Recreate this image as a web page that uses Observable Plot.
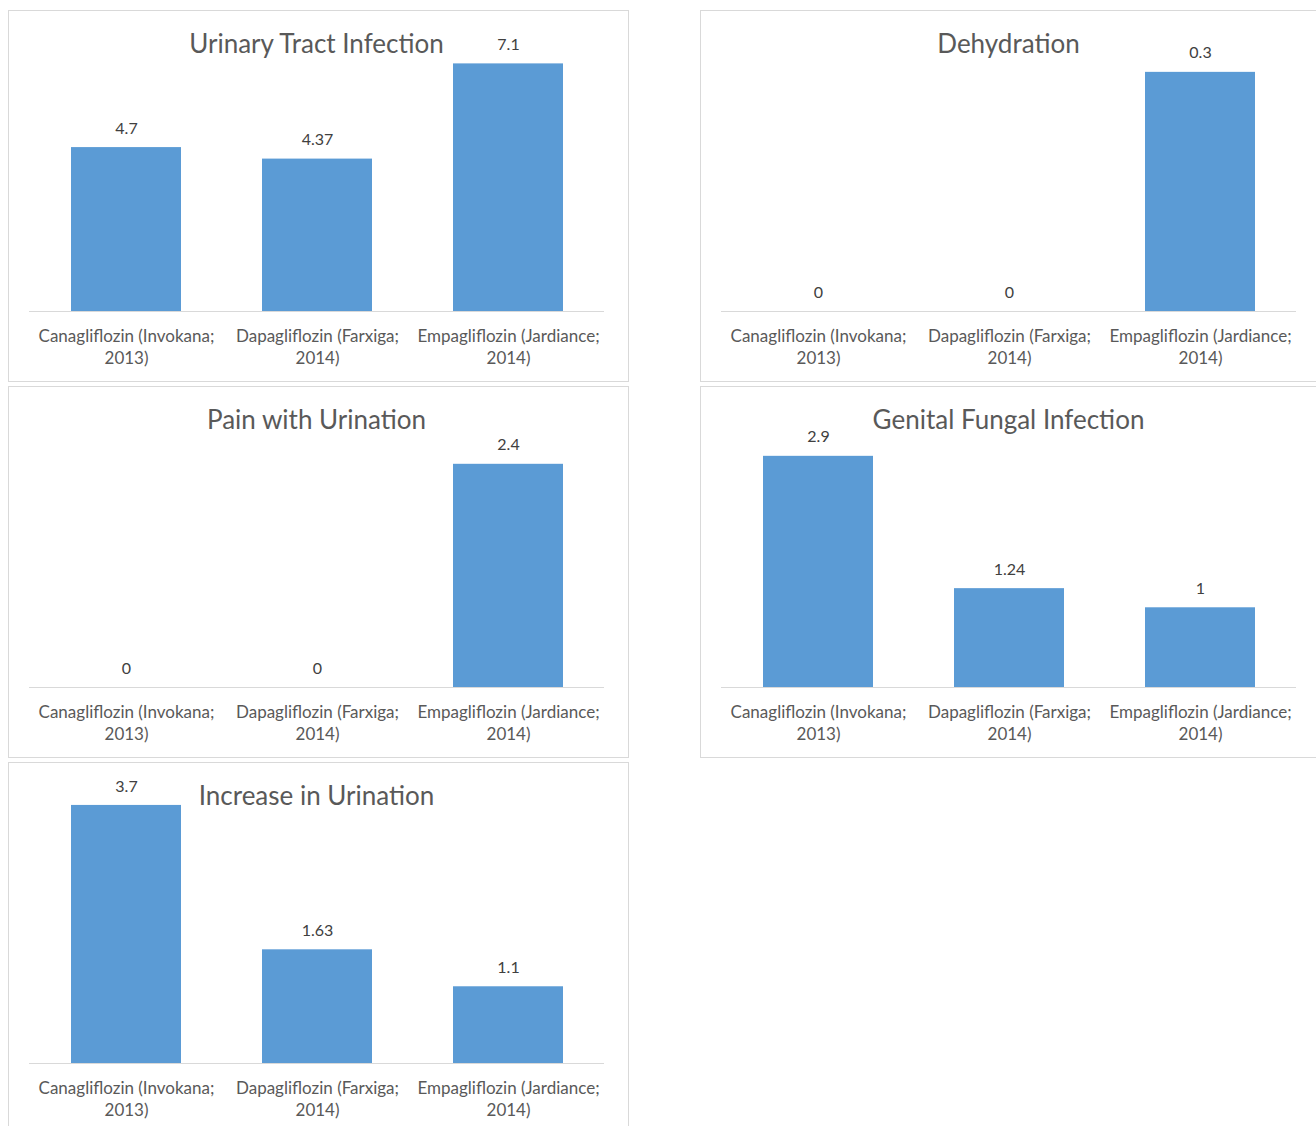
<!DOCTYPE html>
<html>
<head>
<meta charset="utf-8">
<script src="https://cdn.jsdelivr.net/npm/d3@7"></script>
<script src="https://cdn.jsdelivr.net/npm/@observablehq/plot@0.6"></script>
<style>
  html, body { margin: 0; padding: 0; background: #fff; }
  #wrap { position: relative; width: 1316px; height: 1126px; overflow: hidden; background: #fff; }
  .panel { position: absolute; box-sizing: border-box; width: 621px; height: 372px; border: 1px solid #d9d9d9; background: #fff; }
  .panel svg { position: absolute; left: 0; top: 0; }
  .ptitle { position: absolute; left: 20px; width: 575px; top: 18px; text-align: center;
            font-family: Lato, "Open Sans", sans-serif; font-size: 26px; line-height: 28px; color: #595959; z-index: 2; }
</style>
</head>
<body>
<div id="wrap"></div>
<script>
const categories = ["Canagliflozin (Invokana; 2013)", "Dapagliflozin (Farxiga; 2014)", "Empagliflozin (Jardiance; 2014)"];
const urinaryTractInfection = [4.7, 4.37, 7.1];
const dehydration = [0, 0, 0.3];
const painWithUrination = [0, 0, 2.4];
const genitalFungalInfection = [2.9, 1.24, 1];
const increaseInUrination = [3.7, 1.63, 1.1];
const panelTitles = ["Urinary Tract Infection", "Dehydration", "Pain with Urination", "Genital Fungal Infection", "Increase in Urination"];
const axisMax = [8, 0.35, 3, 3.5, 4];

const seriesList = [urinaryTractInfection, dehydration, painWithUrination, genitalFungalInfection, increaseInUrination];
const positions = [[8, 10], [700, 10], [8, 386], [700, 386], [8, 762]];

const FONT = "Lato, 'Open Sans', sans-serif";
const wrap = document.getElementById("wrap");

seriesList.forEach((vals, i) => {
  const data = categories.map((c, j) => ({category: c, value: vals[j]}));
  const panel = document.createElement("div");
  panel.className = "panel";
  panel.style.left = positions[i][0] + "px";
  panel.style.top = positions[i][1] + "px";
  const t = document.createElement("div");
  t.className = "ptitle";
  t.textContent = panelTitles[i];

  const chart = Plot.plot({
    width: 619,
    height: 370,
    marginLeft: 20,
    marginRight: 24,
    marginTop: 21,
    marginBottom: 70,
    style: {fontFamily: FONT, color: "#595959", background: "transparent"},
    x: {domain: categories, paddingInner: 0.426, paddingOuter: 0.213, label: null},
    y: {domain: [0, axisMax[i]], axis: null},
    marks: [
      Plot.barY(data, {x: "category", y: "value", fill: "#5b9bd5"}),
      Plot.ruleY([0], {stroke: "#d9d9d9", strokeWidth: 1}),
      Plot.text(data, {x: "category", y: "value", text: d => String(d.value), dy: -19,
                       fontSize: 16, fill: "#404040", lineAnchor: "middle"}),
      Plot.axisX({tickSize: 0, tickPadding: 15, fontSize: 17, lineHeight: 1.3,
                  tickFormat: d => d.replace("; ", ";\n"), fill: "#595959"})
    ]
  });
  panel.appendChild(chart);
  panel.appendChild(t);
  wrap.appendChild(panel);
});
</script>
</body>
</html>
